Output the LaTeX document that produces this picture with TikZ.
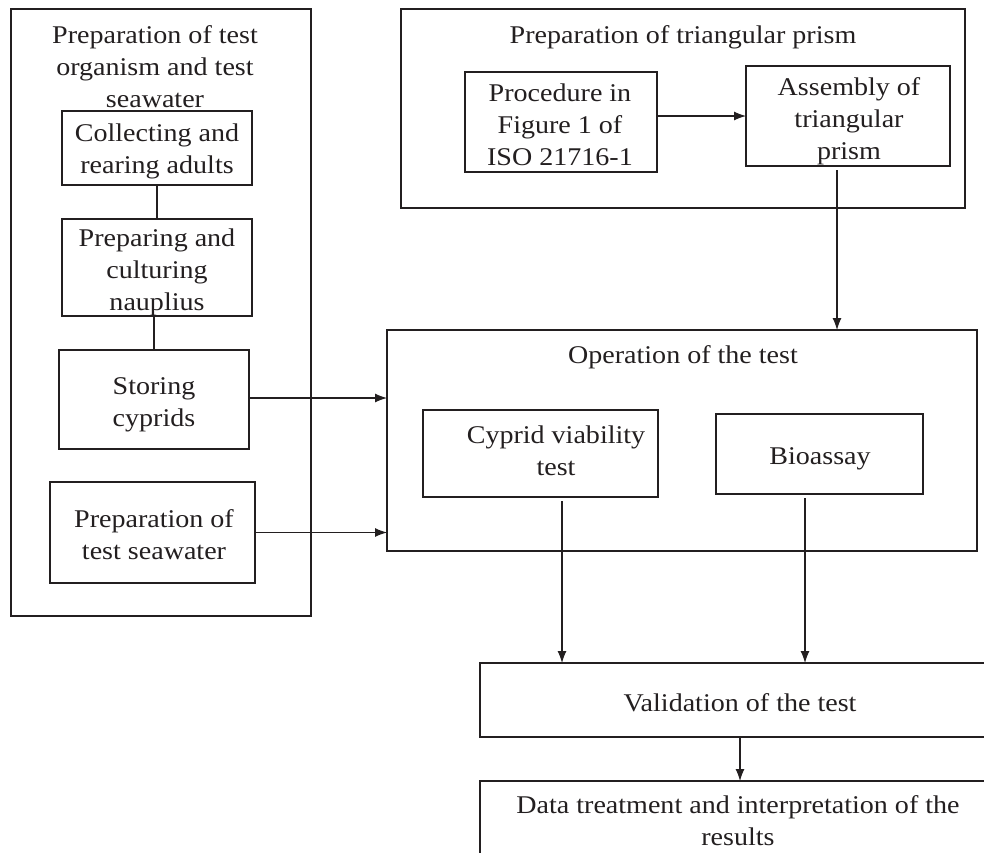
\documentclass[tikz,border=0pt]{standalone}
\usepackage{fontspec}
\setmainfont{Liberation Serif}[FakeStretch=1.1]
\usetikzlibrary{arrows.meta}
\definecolor{ink}{HTML}{231F20}
\begin{document}
\begin{tikzpicture}[x=1pt,y=-1pt,
  box/.style={draw=ink, line width=2.3pt, inner sep=0pt, outer sep=0pt},
  lbl/.style={inner sep=0pt, align=center, text=ink},
  arr/.style={draw=ink, line width=1.1pt, -{Latex[length=12pt,width=9pt]}},
  ln/.style={draw=ink, line width=1.1pt},
  font=\fontsize{25.5}{32}\selectfont]
\useasboundingbox (0,0) rectangle (984,852);
\clip (0,0) rectangle (984,852);
\fill[white] (0,0) rectangle (984,852);

% left container
\node[box, minimum width=300pt, minimum height=607pt] (left) at (161,312.5) {};
\node[lbl] (lefttitle) at (155,66.5) {Preparation of test\\organism and test\\seawater};
\node[box, minimum width=190pt, minimum height=74pt] (col) at (157,148) {};
\node[lbl] (coltext) at (157,151) {Collecting and\\rearing adults};
\node[box, minimum width=190pt, minimum height=97pt] (naup) at (157,267.5) {};
\node[lbl] (nauptext) at (157,272.5) {Preparing and\\culturing\\nauplius};
\node[box, minimum width=190pt, minimum height=99pt] (sto) at (154,399.5) {};
\node[lbl] (stotext) at (154,404.5) {Storing\\cyprids};
\node[box, minimum width=205pt, minimum height=101pt] (sea) at (152.5,532.5) {};
\node[lbl] (seatext) at (154,534.5) {Preparation of\\test seawater};

% top right container
\node[box, minimum width=564pt, minimum height=199pt] (prism) at (683,108.5) {};
\node[lbl] (prismtitle) at (683,37) {Preparation of triangular prism};
\node[box, minimum width=192pt, minimum height=100pt] (proc) at (561,122) {};
\node[lbl] (proctext) at (560,125) {Procedure in\\Figure 1 of\\ISO 21716-1};
\node[box, minimum width=204pt, minimum height=100pt] (asm) at (848,116) {};
\node[lbl] (asmtext) at (849,121) {Assembly of\\triangular\\prism};

% operation container
\node[box, minimum width=590pt, minimum height=221pt] (op) at (682,440.5) {};
\node[lbl] (optitle) at (683,357) {Operation of the test};
\node[box, minimum width=235pt, minimum height=87pt] (cyp) at (540.5,453.5) {};
\node[lbl] (cyptext) at (556,451) {Cyprid viability\\test};
\node[box, minimum width=207pt, minimum height=80pt] (bio) at (819.5,454) {};
\node[lbl] (biotext) at (820,459) {Bioassay};

% bottom
\node[box, minimum width=520pt, minimum height=74pt] (val) at (740,700) {};
\node[lbl] (valtext) at (740,703) {Validation of the test};
\node[box, minimum width=520pt, minimum height=79pt] (data) at (740,820.5) {};
\node[lbl] (datatext) at (738,821) {Data treatment and interpretation of the\\results};

% connectors
\draw[ln] (col.south) -- (naup.north);
\draw[ln] (sto.north) -- (sto.north |- naup.south);
\draw[arr] (sto.east |- 0,398) -- (op.west |- 0,398);
\draw[arr] (sea.east) -- (sea.east -| op.west);
\draw[arr] (proc.east |- asm.west) -- (asm.west);
\coordinate (a1) at (837,170);
\draw[arr] (a1) -- (a1 |- op.north);
\coordinate (c1) at (562,501);
\draw[arr] (c1) -- (c1 |- val.north);
\coordinate (c2) at (805,498);
\draw[arr] (c2) -- (c2 |- val.north);
\draw[arr] (val.south) -- (data.north);
\end{tikzpicture}
\end{document}
